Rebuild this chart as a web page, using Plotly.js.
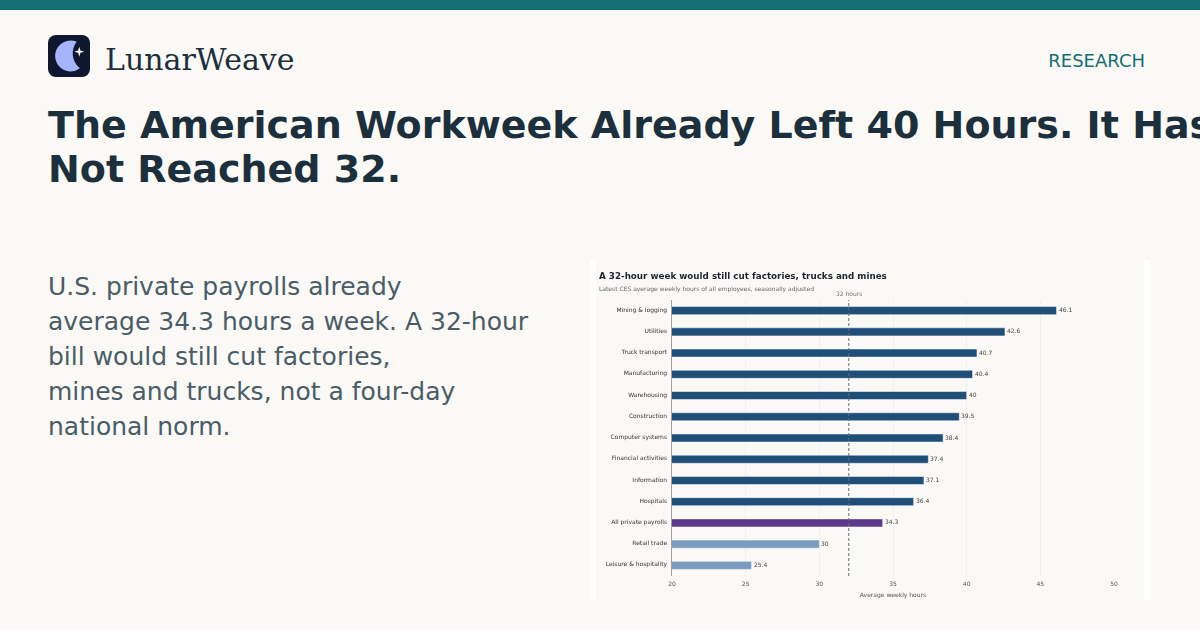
<!DOCTYPE html>
<html>
<head>
<meta charset="utf-8">
<script src="https://cdn.plot.ly/plotly-3.0.1.min.js"></script>
<style>
  html, body { margin: 0; padding: 0; }
  body { width: 1200px; height: 630px; background: #faf9f6; position: relative; overflow: hidden; font-family: "DejaVu Sans", sans-serif; }
  #topbar { position: absolute; left: 0; top: 0; width: 1200px; height: 10px; background: #136f73; }
  #logo { position: absolute; left: 48px; top: 35px; }
  #brand { position: absolute; left: 105px; top: 41px; font: 30px/38px "DejaVu Serif", serif; color: #1c2f3c; }
  #tag { position: absolute; right: 55px; top: 50px; font-size: 18px; line-height: 22px; color: #136f73; }
  #headline { position: absolute; left: 48px; top: 103px; width: 1300px; font-size: 38px; line-height: 44px; font-weight: bold; color: #1c2f3c; }
  #blurb { position: absolute; left: 48px; top: 269px; width: 500px; font-size: 25px; line-height: 35px; color: #4a5c66; }
  #panel { position: absolute; left: 590px; top: 260px; width: 560px; height: 340px; background: #ffffff; }
  #roast { position: absolute; left: 596px; top: 260px; width: 548px; height: 340px; filter: blur(0.3px); }
</style>
</head>
<body>
<div id="topbar"></div>
<svg id="logo" width="42" height="42" viewBox="0 0 42 42">
  <rect width="42" height="42" rx="8" fill="#0f172e"/>
  <path d="M28.7 6.7 A15.5 15.5 0 1 0 32 33.3 A19 19 0 0 1 28.7 6.7 Z" fill="#a5b4fc"/>
  <path d="M31.3 11.7 L32.4 15.6 L36.3 16.7 L32.4 17.8 L31.3 21.7 L30.2 17.8 L26.3 16.7 L30.2 15.6 Z" fill="#ffffff"/>
</svg>
<div id="brand">LunarWeave</div>
<div id="tag">RESEARCH</div>
<div id="headline">The American Workweek Already Left 40 Hours. It Has<br>Not Reached 32.</div>
<div id="blurb">U.S. private payrolls already<br>average 34.3 hours a week. A 32-hour<br>bill would still cut factories,<br>mines and trucks, not a four-day<br>national norm.</div>
<div id="panel"></div>
<div id="roast"></div>
<script>
  var industries = ['Mining & logging', 'Utilities', 'Truck transport', 'Manufacturing', 'Warehousing', 'Construction', 'Computer systems', 'Financial activities', 'Information', 'Hospitals', 'All private payrolls', 'Retail trade', 'Leisure & hospitality'];
  var weeklyHours = [46.1, 42.6, 40.7, 40.4, 40, 39.5, 38.4, 37.4, 37.1, 36.4, 34.3, 30, 25.4];
  var barColors = ['#1f4e79', '#1f4e79', '#1f4e79', '#1f4e79', '#1f4e79', '#1f4e79', '#1f4e79', '#1f4e79', '#1f4e79', '#1f4e79', '#5b3a8c', '#7c9cbf', '#7c9cbf'];
  var xTicks = [20, 25, 30, 35, 40, 45, 50];
  var billHours = 32;

  var hours = {
    type: 'bar',
    orientation: 'h',
    x: weeklyHours,
    y: industries,
    width: 0.38,
    marker: { color: barColors, line: { color: '#ffffff', width: 0.5 } },
    hoverinfo: 'x+y'
  };

  // value labels sit closer to the bar ends than textposition outside puts them
  var valueLabels = weeklyHours.map(function (v, i) {
    return { text: String(v), x: v, y: industries[i], xref: 'x', yref: 'y', xanchor: 'left', yanchor: 'middle', xshift: 0, yshift: 1, showarrow: false, font: { size: 6, color: '#444444' } };
  });

  var layout = {
    width: 548,
    height: 340,
    margin: { l: 76, r: 30, t: 40, b: 24 },
    paper_bgcolor: '#faf9f6',
    plot_bgcolor: '#faf9f6',
    font: { family: 'DejaVu Sans, sans-serif', size: 6, color: '#333333' },
    showlegend: false,
    xaxis: {
      range: [20, 50],
      tickvals: xTicks,
      ticks: 'outside',
      ticklen: 2,
      tickcolor: 'rgba(0,0,0,0)',
      gridcolor: '#e9ecef',
      gridwidth: 0.7,
      zeroline: false,
      showline: false,
      tickfont: { size: 6, color: '#555555' },
      title: { text: 'Average weekly hours', font: { size: 6, color: '#555555' }, standoff: 6 }
    },
    yaxis: {
      type: 'category',
      autorange: 'reversed',
      ticks: 'outside',
      ticklen: 2.5,
      tickcolor: 'rgba(0,0,0,0)',
      ticklabelshift: 1,
      showgrid: false,
      showline: true,
      linecolor: '#a0a0a0',
      linewidth: 1.2,
      tickfont: { size: 6, color: '#333333' }
    },
    shapes: [{
      type: 'line', xref: 'x', yref: 'paper',
      x0: billHours, x1: billHours, y0: 0, y1: 1,
      line: { color: '#5f6b78', width: 1, dash: '3px,2px' }
    }],
    annotations: [
      { text: '<b>A 32-hour week would still cut factories, trucks and mines</b>', xref: 'paper', yref: 'paper', x: -0.1688, y: 1.087, xanchor: 'left', yanchor: 'middle', showarrow: false, font: { size: 8.76, color: '#1c2530' } },
      { text: 'Latest CES average weekly hours of all employees, seasonally adjusted', xref: 'paper', yref: 'paper', x: -0.1688, y: 1.04, xanchor: 'left', yanchor: 'middle', showarrow: false, font: { size: 6, color: '#666666' } },
      { text: '32 hours', xref: 'x', yref: 'paper', x: billHours, y: 1.022, xanchor: 'center', yanchor: 'middle', showarrow: false, font: { size: 6, color: '#777777' } }
    ].concat(valueLabels)
  };

  Plotly.newPlot('roast', [hours], layout, { displayModeBar: false, staticPlot: true });
</script>
</body>
</html>
